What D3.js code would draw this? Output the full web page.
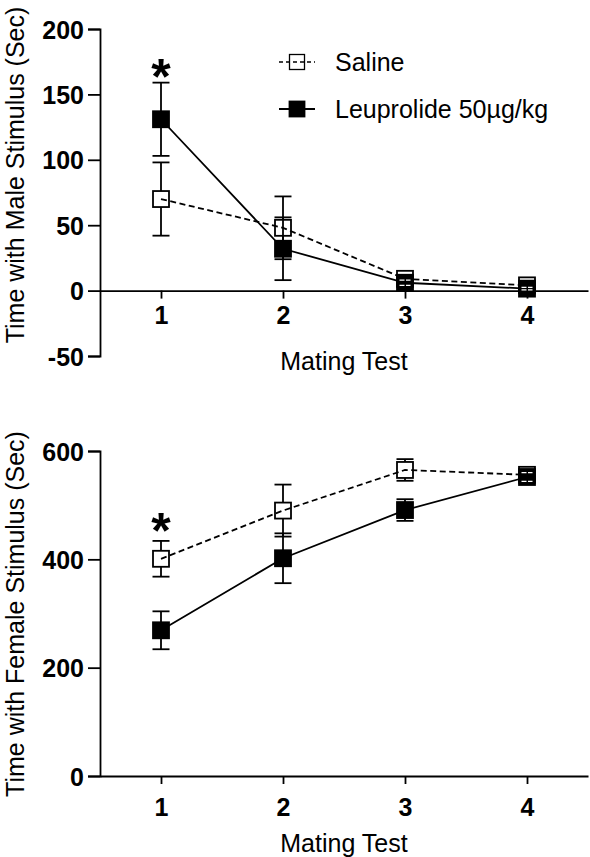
<!DOCTYPE html>
<html>
<head>
<meta charset="utf-8">
<script src="https://cdn.jsdelivr.net/npm/d3@7"></script>
<style>
  html, body { margin: 0; padding: 0; background: #fff; }
  svg { display: block; }
  text { font-family: "Liberation Sans", Arial, Helvetica, sans-serif; }
</style>
</head>
<body>
<div id="chart"></div>
<script>
// ---- Data ----
const tests = [1, 2, 3, 4];
const seriesNames = ["Saline", "Leuprolide 50µg/kg"];

// Top panel: Time with Male Stimulus (Sec)
const maleSaline = [70, 48, 9, 4];
const maleSalineSem = [28, 24, 3, 2];
const maleLeup = [131, 32, 6, 1.5];
const maleLeupSem = [28, 24, 2, 1];

// Bottom panel: Time with Female Stimulus (Sec)
const femaleSaline = [401, 490, 565, 556];
const femaleSalineSem = [33, 48, 20, 8];
const femaleLeup = [269, 402, 491, 552];
const femaleLeupSem = [35, 46, 20, 8];

const maleTicks = [-50, 0, 50, 100, 150, 200];
const femaleTicks = [0, 200, 400, 600];
const xLabel = "Mating Test";
const maleYLabel = "Time with Male Stimulus (Sec)";
const femaleYLabel = "Time with Female Stimulus (Sec)";
const sigTests = [1]; // asterisk positions

// ---- Drawing ----
const W = 590, H = 857;
const svg = d3.select("#chart").append("svg").attr("width", W).attr("height", H);

const x = d3.scaleLinear().domain([0.5, 4.5]).range([100, 588]);
const SQ = 16, CAP = 17, LW = 1.8;
const fmt = d => String(d);

function panel(cfg) {
  const y = d3.scaleLinear().domain(cfg.domain).range(cfg.range);
  const g = svg.append("g");

  // Y axis
  const ya = g.append("g").attr("transform", `translate(${x(0.5)},0)`)
    .call(d3.axisLeft(y).tickValues(cfg.ticks).tickSize(12).tickPadding(4).tickFormat(fmt));
  ya.select(".domain").attr("stroke", "#000").attr("stroke-width", LW);
  ya.selectAll(".tick line").attr("stroke", "#000").attr("stroke-width", LW);
  ya.selectAll(".tick text").attr("font-size", 25).attr("font-weight", "bold").attr("fill", "#000")
    .attr("dy", "0.36em");

  // X axis
  const xa = g.append("g").attr("transform", `translate(0,${y(0)})`)
    .call(d3.axisBottom(x).tickValues(tests).tickSize(8).tickPadding(cfg.xPad).tickSizeOuter(0).tickFormat(fmt));
  xa.select(".domain").attr("stroke", "#000").attr("stroke-width", LW);
  xa.selectAll(".tick line").attr("stroke", "#000").attr("stroke-width", LW);
  xa.selectAll(".tick text").attr("font-size", 25).attr("font-weight", "bold").attr("fill", "#000");

  // Axis titles
  g.append("text").attr("x", 344).attr("y", cfg.xTitleY).attr("text-anchor", "middle")
    .attr("font-size", 25).text(xLabel);
  g.append("text").attr("transform", `translate(${cfg.yTitleX},${cfg.yTitleC}) rotate(-90)`)
    .attr("text-anchor", "middle").attr("font-size", 25).text(cfg.yLabel);

  const series = [
    { vals: cfg.saline, sem: cfg.salineSem, fill: "#fff", dash: "6,3.5" },
    { vals: cfg.leup, sem: cfg.leupSem, fill: "#000", dash: null }
  ];

  series.forEach(s => {
    const pts = tests.map((t, i) => ({ t, v: s.vals[i], e: s.sem[i] }));
    const sg = g.append("g");
    // error bars
    pts.forEach(p => {
      const y1 = y(p.v + p.e), y2 = y(p.v - p.e);
      sg.append("line").attr("x1", x(p.t)).attr("x2", x(p.t)).attr("y1", y1).attr("y2", y2)
        .attr("stroke", "#000").attr("stroke-width", LW);
      [y1, y2].forEach(yy => {
        sg.append("line").attr("x1", x(p.t) - CAP / 2).attr("x2", x(p.t) + CAP / 2)
          .attr("y1", yy).attr("y2", yy).attr("stroke", "#000").attr("stroke-width", LW);
      });
    });
    // markers
    sg.selectAll("rect.m").data(pts).enter().append("rect")
      .attr("x", d => x(d.t) - SQ / 2).attr("y", d => y(d.v) - SQ / 2)
      .attr("width", SQ).attr("height", SQ)
      .attr("fill", s.fill).attr("stroke", "#000").attr("stroke-width", LW);
    // connecting line
    sg.append("path").datum(pts)
      .attr("d", d3.line().x(d => x(d.t)).y(d => y(d.v)))
      .attr("fill", "none").attr("stroke", "#000").attr("stroke-width", LW)
      .attr("stroke-dasharray", s.dash);
    // caps inside filled squares shown in white
    if (s.fill === "#000") {
      pts.forEach(p => {
        [y(p.v + p.e), y(p.v - p.e)].forEach(yy => {
          if (Math.abs(yy - y(p.v)) < SQ / 2 - 1) {
            sg.append("line").attr("x1", x(p.t) - CAP / 2 + 3).attr("x2", x(p.t) + CAP / 2 - 3)
              .attr("y1", yy).attr("y2", yy).attr("stroke", "#fff").attr("stroke-width", 1.2)
              .attr("stroke-dasharray", "5,1.5");
          }
        });
      });
    }
  });

  // significance asterisk
  sigTests.forEach(t => {
    g.append("text").attr("x", x(t)).attr("y", cfg.starY).attr("text-anchor", "middle")
      .attr("font-size", 50).attr("font-weight", "bold").text("*");
  });
  return y;
}

panel({
  domain: [-50, 200], range: [356, 29], ticks: maleTicks,
  saline: maleSaline, salineSem: maleSalineSem, leup: maleLeup, leupSem: maleLeupSem,
  xPad: 8, xTitleY: 370, yTitleX: 24, yTitleC: 175, yLabel: maleYLabel, starY: 94
});

panel({
  domain: [0, 600], range: [776, 451], ticks: femaleTicks,
  saline: femaleSaline, salineSem: femaleSalineSem, leup: femaleLeup, leupSem: femaleLeupSem,
  xPad: 14, xTitleY: 852, yTitleX: 24, yTitleC: 614, yLabel: femaleYLabel, starY: 548
});

// Legend
const legend = svg.append("g");
const legY = [62, 109];
seriesNames.forEach((name, i) => {
  const ly = legY[i];
  legend.append("line").attr("x1", 279).attr("x2", 315).attr("y1", ly).attr("y2", ly)
    .attr("stroke", "#000").attr("stroke-width", i === 0 ? 1.3 : LW)
    .attr("stroke-dasharray", i === 0 ? "4,3" : null);
  legend.append("rect").attr("x", 297 - 7.5).attr("y", ly - 7.5).attr("width", 15).attr("height", 15)
    .attr("fill", i === 0 ? "none" : "#000").attr("stroke", "#000").attr("stroke-width", i === 0 ? 1.3 : LW);
  legend.append("text").attr("x", 335).attr("y", ly + 8.5).attr("font-size", 25).text(name);
});
</script>
</body>
</html>
